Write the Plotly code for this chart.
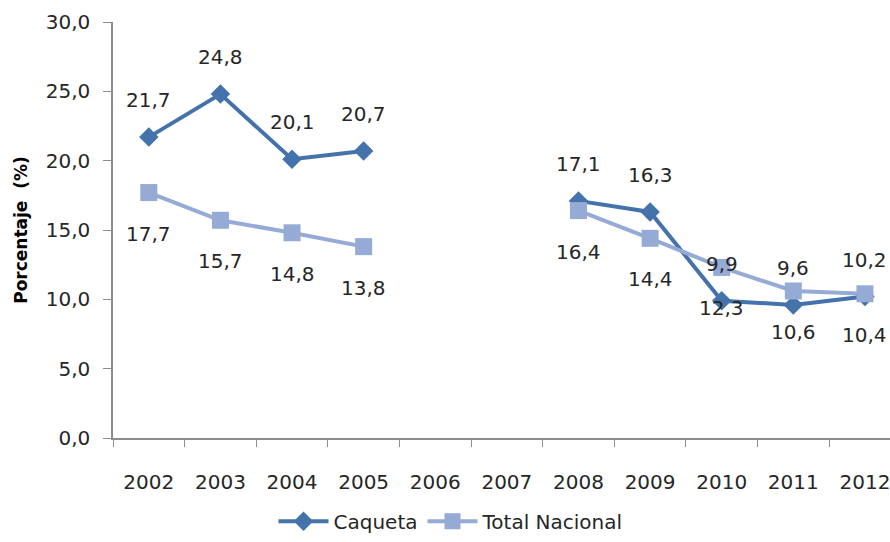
import plotly.graph_objects as go

years = ["2002", "2003", "2004", "2005", "2006", "2007", "2008", "2009", "2010", "2011", "2012"]
caqueta = [21.7, 24.8, 20.1, 20.7, None, None, 17.1, 16.3, 9.9, 9.6, 10.2]
total_nacional = [17.7, 15.7, 14.8, 13.8, None, None, 16.4, 14.4, 12.3, 10.6, 10.4]
y_ticks = [0, 5, 10, 15, 20, 25, 30]

DARK = "#4472AB"
LIGHT = "#95ABD5"
FONT = "DejaVu Sans"
TXT = "#262626"

fig = go.Figure()
fig.add_trace(go.Scatter(
    x=years, y=caqueta, name="Caqueta", mode="lines+markers",
    line=dict(color=DARK, width=4), connectgaps=False,
    marker=dict(symbol="diamond", size=15, color=DARK),
))
fig.add_trace(go.Scatter(
    x=years, y=total_nacional, name="Total Nacional", mode="lines+markers",
    line=dict(color=LIGHT, width=4), connectgaps=False,
    marker=dict(symbol="square", size=17, color=LIGHT),
))

def fmt(v):
    return f"{v:.1f}".replace(".", ",")

for i, v in enumerate(caqueta):
    if v is not None:
        fig.add_annotation(x=i, y=v, text=fmt(v), showarrow=False, yshift=37,
                           font=dict(family=FONT, size=20, color=TXT))
for i, v in enumerate(total_nacional):
    if v is not None:
        fig.add_annotation(x=i, y=v, text=fmt(v), showarrow=False, yshift=-41,
                           font=dict(family=FONT, size=20, color=TXT))

fig.update_layout(
    width=890, height=542,
    margin=dict(l=113, r=0, t=22, b=104),
    paper_bgcolor="white", plot_bgcolor="white",
    separators=",.",
    font=dict(family=FONT, size=20, color=TXT),
    showlegend=True,
    legend=dict(orientation="h", x=0.435, xanchor="center", y=-0.247, yanchor="bottom",
                font=dict(family=FONT, size=20, color=TXT), itemwidth=50),
)
fig.update_xaxes(
    type="category", categoryorder="array", categoryarray=years,
    range=[-0.5, 10.35], tickson="boundaries", automargin=False,
    ticks="outside", ticklen=7, tickcolor="#8c8c8c",
    showline=True, linecolor="#8c8c8c", linewidth=1.5,
    showgrid=False, zeroline=False, ticklabelstandoff=25,
    tickfont=dict(family=FONT, size=20, color=TXT),
)
fig.update_yaxes(
    range=[0, 30], tickvals=y_ticks, tickformat=".1f", automargin=False,
    ticks="outside", ticklen=8, tickcolor="#8c8c8c",
    showline=True, linecolor="#8c8c8c", linewidth=1.5,
    showgrid=False, zeroline=False, ticklabelstandoff=9,
    tickfont=dict(family=FONT, size=20, color=TXT),
    title=dict(text="<b>Porcentaje  (%)</b>", font=dict(family=FONT, size=17, color="black"), standoff=14),
)
for tr in fig.data:
    tr.cliponaxis = False

fig.write_html(
    "out.html",
    config={"displayModeBar": False},
    post_script="document.body.style.margin='0';document.body.style.overflow='hidden';"
                "document.documentElement.style.overflow='hidden';",
)
